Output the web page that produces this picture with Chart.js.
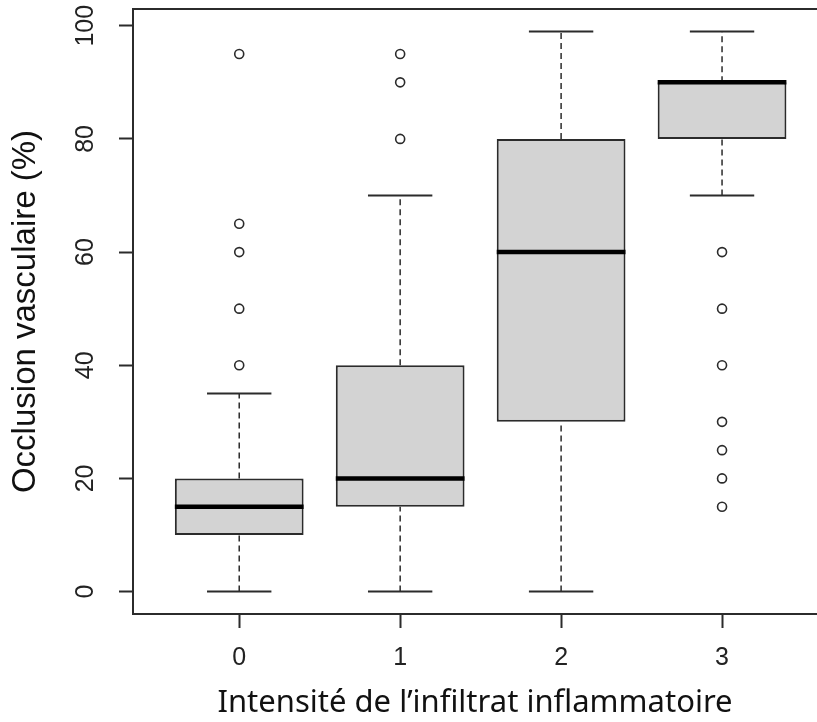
<!DOCTYPE html>
<html>
<head>
<meta charset="utf-8">
<script src="https://cdn.jsdelivr.net/npm/chart.js@4.4.1/dist/chart.umd.min.js"></script>
<style>
  html, body { margin: 0; padding: 0; background: #fff; overflow: hidden; }
  #wrap { position: relative; width: 817px; height: 722px; }
</style>
</head>
<body>
<div id="wrap"><canvas id="box-chart"></canvas></div>
<script>
// groups (intensité de l'infiltrat)
const categories = ['0', '1', '2', '3'];
const whiskerLow = [0, 0, 0, 70];
const q1 = [10, 15, 30, 80];
const median = [15, 20, 60, 90];
const q3 = [20, 40, 80, 90];
const whiskerHigh = [35, 70, 99, 99];
const outliers = [
  [40, 50, 60, 65, 95],
  [80, 90, 95],
  [],
  [15, 20, 25, 30, 40, 50, 60]
];
const yTicks = [0, 20, 40, 60, 80, 100];

// R's x limits are 0.34..4.66 but the picture is cut at about 4.59
const xMin = 0.34;
const xMaxVisible = 4.59;

const ink = '#2b2b2b';
const boxHalf = 0.4;
const capHalf = 0.2;

function segments(fn) {
  const pts = [];
  categories.forEach((c, i) => {
    fn(i + 1, i).forEach(seg => {
      pts.push(seg[0], seg[1], { x: i + 1, y: null });
    });
  });
  return pts;
}

const boxData = categories.map((c, i) => ({ x: i + 1, y: [q1[i], q3[i]] }));
const whiskerData = segments((x, i) => [
  [{ x, y: q3[i] }, { x, y: whiskerHigh[i] }],
  [{ x, y: whiskerLow[i] }, { x, y: q1[i] }]
]);
const capData = segments((x, i) => [
  [{ x: x - capHalf, y: whiskerHigh[i] }, { x: x + capHalf, y: whiskerHigh[i] }],
  [{ x: x - capHalf, y: whiskerLow[i] }, { x: x + capHalf, y: whiskerLow[i] }]
]);
const medianData = segments((x, i) => [
  [{ x: x - boxHalf, y: median[i] }, { x: x + boxHalf, y: median[i] }]
]);
const outlierData = [];
outliers.forEach((list, i) => list.forEach(v => outlierData.push({ x: i + 1, y: v })));

const lineBase = { type: 'line', pointRadius: 0, spanGaps: false, fill: false, borderColor: ink };

// plot box: left, top and bottom only, the right side is outside the picture
const framePlugin = {
  id: 'frame',
  afterDatasetsDraw(chart) {
    const { ctx, chartArea: a } = chart;
    ctx.save();
    ctx.strokeStyle = ink;
    ctx.lineWidth = 2;
    ctx.beginPath();
    ctx.moveTo(chart.width, a.top);
    ctx.lineTo(a.left, a.top);
    ctx.lineTo(a.left, a.bottom);
    ctx.lineTo(chart.width, a.bottom);
    ctx.stroke();
    ctx.restore();
  }
};

const noEdgePadding = s => { s.paddingTop = 0; s.paddingBottom = 0; s.paddingLeft = 0; s.paddingRight = 0; };

new Chart(document.getElementById('box-chart'), {
  type: 'bar',
  data: {
    datasets: [
      {
        label: 'box',
        data: boxData,
        backgroundColor: '#d3d3d3',
        borderColor: ink,
        borderWidth: 2,
        borderSkipped: false,
        barPercentage: 0.8,
        categoryPercentage: 1,
        order: 5
      },
      { ...lineBase, label: 'whiskers', data: whiskerData, borderWidth: 1.5, borderDash: [6, 4], order: 4 },
      { ...lineBase, label: 'caps', data: capData, borderWidth: 2, order: 3 },
      { ...lineBase, label: 'median', data: medianData, borderWidth: 4.5, borderColor: '#000', borderCapStyle: 'butt', order: 1 },
      {
        type: 'scatter',
        label: 'outliers',
        data: outlierData,
        pointStyle: 'circle',
        pointRadius: 4.5,
        pointBorderWidth: 1.6,
        pointBackgroundColor: '#fff',
        pointBorderColor: ink,
        order: 0
      }
    ]
  },
  options: {
    responsive: true,
    maintainAspectRatio: false,
    animation: false,
    events: [],
    layout: { autoPadding: false, padding: { top: 9, right: 0, left: 0, bottom: 0 } },
    plugins: { legend: { display: false }, tooltip: { enabled: false } },
    scales: {
      x: {
        type: 'linear',
        min: xMin,
        max: xMaxVisible,
        offset: false,
        afterBuildTicks: s => { s.ticks = categories.map((c, i) => ({ value: i + 1 })); },
        afterFit: s => { s.height = 108; noEdgePadding(s); },
        grid: { display: true, drawOnChartArea: false, drawTicks: true, tickLength: 14, tickColor: ink, tickWidth: 2, offset: false },
        border: { display: false },
        ticks: {
          padding: 15,
          color: '#222',
          font: { family: '"Liberation Sans", Arial, sans-serif', size: 25 },
          callback: v => categories[v - 1] ?? ''
        },
        title: {
          display: true,
          text: 'Intensité de l\u2019infiltrat inflammatoire',
          color: '#111',
          font: { family: '"Noto Sans", sans-serif', size: 31 },
          padding: { top: 0, bottom: 0 }
        }
      },
      y: {
        min: -3.96,
        max: 102.96,
        afterBuildTicks: s => { s.ticks = yTicks.map(v => ({ value: v })); },
        afterFit: s => { s.width = 133; noEdgePadding(s); },
        grid: { display: true, drawOnChartArea: false, drawTicks: true, tickLength: 14, tickColor: ink, tickWidth: 2 },
        border: { display: false },
        ticks: {
          minRotation: 90,
          maxRotation: 90,
          crossAlign: 'center',
          padding: 12,
          color: '#222',
          font: { family: '"Liberation Sans", Arial, sans-serif', size: 25 }
        },
        title: {
          display: true,
          text: 'Occlusion vasculaire (%)',
          color: '#111',
          font: { family: '"Liberation Sans", Arial, sans-serif', size: 33 },
          padding: { top: 6, bottom: 0 }
        }
      }
    }
  },
  plugins: [framePlugin]
});
</script>
</body>
</html>
